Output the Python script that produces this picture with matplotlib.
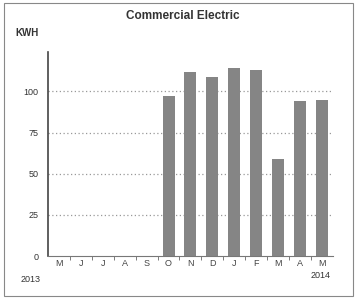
import matplotlib
matplotlib.use('Agg')
import numpy as np
from matplotlib import pyplot as plt
from matplotlib.patches import Rectangle

months = ['M', 'J', 'J', 'A', 'S', 'O', 'N', 'D', 'J', 'F', 'M', 'A', 'M']
kwh = [0, 0, 0, 0, 0, 97, 112, 109, 114, 113, 59, 94, 95]
yticks = [0, 25, 50, 75, 100]

plt.rcParams['font.family'] = ['Liberation Sans', 'DejaVu Sans']

fig = plt.figure(figsize=(3.58, 3.01), dpi=100)
ax = fig.add_axes([0.134, 0.1495, 0.796, 0.678])

x = np.arange(len(months))
ax.bar(x, kwh, width=0.55, color='#858585', zorder=2)

ax.set_xlim(-0.5, len(months) - 0.5)
ax.set_ylim(0, 124)

# dotted gridlines
for v in yticks[1:]:
    ax.axhline(v, color='#999999', lw=0.9, ls=(0, (1, 2)), zorder=1)

ax.set_yticks(yticks)
ax.set_yticklabels([str(v) for v in yticks], fontsize=6.5, color='#333333')
ax.tick_params(axis='y', length=0, pad=7)

# month labels between boundary ticks
ax.set_xticks(x)
ax.set_xticklabels(months, fontsize=6.5, color='#444444')
ax.tick_params(axis='x', length=0, pad=2)
ax.set_xticks(x[:-1] + 0.5, minor=True)
ax.tick_params(axis='x', which='minor', length=3, color='#666666', direction='out')

for s in ['top', 'right']:
    ax.spines[s].set_visible(False)
ax.spines['left'].set_color('#444444')
ax.spines['left'].set_linewidth(1.2)
ax.spines['bottom'].set_color('#777777')

fig.text(0.51, 0.948, 'Commercial Electric', ha='center', va='center',
         fontsize=8.5, fontweight='bold', color='#333333')
fig.text(0.042, 0.89, 'KWH', ha='left', va='center', fontsize=7,
         fontweight='bold', color='#333333')
fig.text(0.057, 0.072, '2013', ha='left', va='center', fontsize=6.5, color='#333333')
fig.text(0.868, 0.085, '2014', ha='left', va='center', fontsize=6.5, color='#333333')

# outer frame
fig.patches.append(Rectangle((0.012, 0.015), 0.975, 0.975, transform=fig.transFigure,
                             fill=False, ec='#888888', lw=0.8))

fig.savefig('out.png', dpi=100)
